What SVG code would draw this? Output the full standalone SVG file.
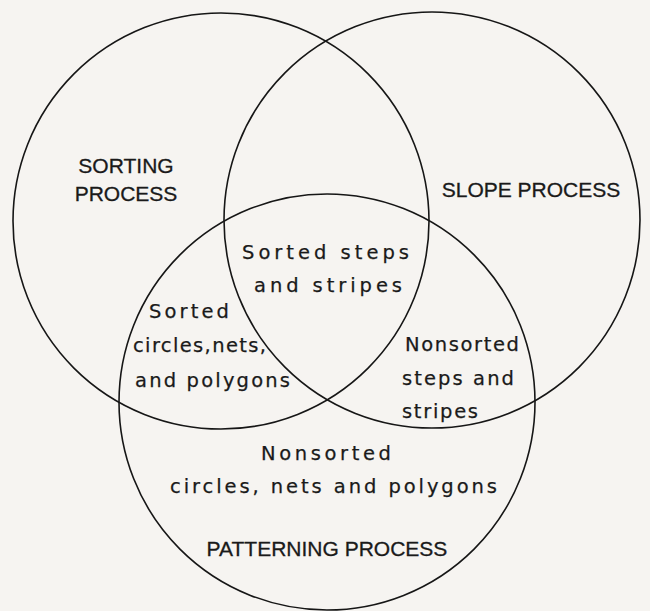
<svg xmlns="http://www.w3.org/2000/svg" width="650" height="611" viewBox="0 0 650 611">
<style>
.c{fill:none;stroke:#161616;stroke-width:1.6}
.cap{font-family:"Liberation Sans",Arial,sans-serif;font-size:21px;fill:#1a1a1a;stroke:#1a1a1a;stroke-width:0.3;text-anchor:middle}
.t{font-family:"DejaVu Sans","Liberation Sans",sans-serif;font-size:19.5px;fill:#1a1a1a;stroke:#1a1a1a;stroke-width:0.25}
</style>
<rect width="650" height="611" fill="#f6f4f1"/>
<g id="sorting-process">
<circle class="c" cx="221" cy="221" r="208"/>
<text class="cap" x="126" y="173">SORTING</text>
<text class="cap" x="126" y="201">PROCESS</text>
</g>
<g id="slope-process">
<circle class="c" cx="432" cy="220" r="208"/>
<text class="cap" x="531" y="197">SLOPE PROCESS</text>
</g>
<g id="patterning-process">
<circle class="c" cx="327" cy="402" r="208"/>
<text class="cap" x="327" y="556">PATTERNING PROCESS</text>
</g>
<g id="sorted-steps-stripes">
<text class="t" x="242" y="259" textLength="167" lengthAdjust="spacing">Sorted steps</text>
<text class="t" x="254" y="292" textLength="148" lengthAdjust="spacing">and stripes</text>
</g>
<g id="sorted-circles">
<text class="t" x="149" y="318" textLength="80" lengthAdjust="spacing">Sorted</text>
<text class="t" x="133" y="352" textLength="133" lengthAdjust="spacing">circles,nets,</text>
<text class="t" x="135" y="387" textLength="155" lengthAdjust="spacing">and polygons</text>
</g>
<g id="nonsorted-steps">
<text class="t" x="405" y="351" textLength="114" lengthAdjust="spacing">Nonsorted</text>
<text class="t" x="402" y="385" textLength="112" lengthAdjust="spacing">steps and</text>
<text class="t" x="402" y="418" textLength="76" lengthAdjust="spacing">stripes</text>
</g>
<g id="nonsorted-circles">
<text class="t" x="261" y="460" textLength="130" lengthAdjust="spacing">Nonsorted</text>
<text class="t" x="170" y="493" textLength="327" lengthAdjust="spacing">circles, nets and polygons</text>
</g>
<g id="connectors"></g>
</svg>
